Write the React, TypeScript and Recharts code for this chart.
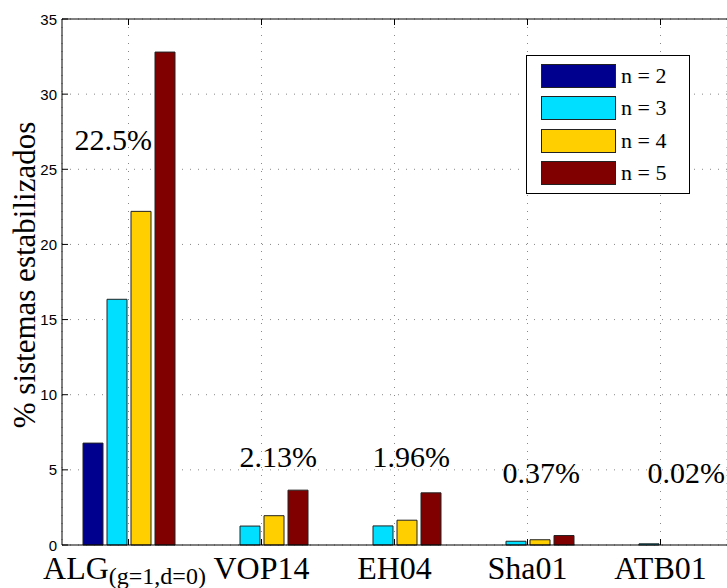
import React from 'react';
import {
  ComposedChart, Bar, Scatter, XAxis, YAxis, CartesianGrid, Legend, ReferenceLine,
} from 'recharts';

/* ---------------------------------- data ---------------------------------- */

const categories = ['ALG', 'VOP14', 'EH04', 'Sha01', 'ATB01'];
const subscripts = ['(g=1,d=0)', '', '', '', ''];

const n2 = [6.78, 0, 0, 0, 0];
const n3 = [16.35, 1.26, 1.27, 0.25, 0.08];
const n4 = [22.2, 1.95, 1.65, 0.35, 0];
const n5 = [32.8, 3.65, 3.47, 0.63, 0];

// percentage notes written over each group (y = baseline, in axis units)
const notes = ['22.5%', '2.13%', '1.96%', '0.37%', '0.02%'];
const noteY = [26.3, 5.18, 5.22, 4.15, 4.15];

const yTicks = [0, 5, 10, 15, 20, 25, 30, 35];

const seriesKeys = ['n2', 'n3', 'n4', 'n5'];
const seriesNames = ['n = 2', 'n = 3', 'n = 4', 'n = 5'];
const seriesColors = ['#00008f', '#00dfff', '#ffcf00', '#800000'];

const rows = categories.map((name, i) => ({
  name,
  n2: n2[i],
  n3: n3[i],
  n4: n4[i],
  n5: n5[i],
  note: notes[i],
  noteY: noteY[i],
}));

/* --------------------------------- layout --------------------------------- */

const SERIF = '"Liberation Serif", "Times New Roman", serif';
const SANS = '"Liberation Sans", Arial, sans-serif';
const PLOT_TOP = 19;
const noteDx = [-54, -22, -22, -25, -13];

/* ------------------------------- renderers -------------------------------- */

const YTick = ({ x, y, payload }: any) => (
  <g>
    <text x={x} y={y} textAnchor="end" dominantBaseline="central" fontFamily={SANS} fontSize={15} fill="#000">
      {payload.value}
    </text>
    <line x1={x + 5} x2={x + 11} y1={y} y2={y} stroke="#000" />
  </g>
);

const XTick = ({ x, y, payload, index }: any) => {
  const sub = subscripts[index];
  return (
    <g>
      <line x1={x} x2={x} y1={y} y2={y - 6} stroke="#000" />
      <line x1={x} x2={x} y1={PLOT_TOP} y2={PLOT_TOP + 6} stroke="#000" />
      <text x={x + (sub ? -4 : 0)} y={y + 34} textAnchor="middle" fontFamily={SERIF} fontSize={32} fill="#000">
        <tspan>{payload.value}</tspan>
        {sub ? <tspan dy={5} fontSize={24}>{sub}</tspan> : null}
      </text>
    </g>
  );
};

const NoteShape = (props: any) => {
  const { cx, cy, index } = props;
  return (
    <text x={cx + noteDx[index]} y={cy} textAnchor="start" fontFamily={SERIF} fontSize={30} fill="#000">
      {props.payload.note}
    </text>
  );
};

const LegendBox = () => (
  <div style={{
    position: 'relative', width: 164, height: 139, boxSizing: 'border-box',
    border: '1px solid #000', background: '#fff',
  }}>
    {seriesNames.map((nm, i) => (
      <div key={nm}>
        <div style={{
          position: 'absolute', left: 14, top: 8 + i * 32.3, width: 75, height: 24,
          boxSizing: 'border-box', border: '1px solid #222', background: seriesColors[i],
        }} />
        <div style={{
          position: 'absolute', left: 94, top: 8 + i * 32.3, height: 24, lineHeight: '24px',
          fontFamily: SERIF, fontSize: 22, color: '#000', whiteSpace: 'nowrap',
        }}>{nm}</div>
      </div>
    ))}
  </div>
);

/* ---------------------------------- chart --------------------------------- */

export default function App() {
  return (
    <div style={{
      position: 'fixed', left: 0, top: 0, width: 727, height: 588,
      overflow: 'hidden', background: '#fff',
    }}>
      <ComposedChart
        width={745}
        height={588}
        data={rows}
        margin={{ top: PLOT_TOP, right: 18, bottom: 0, left: 0 }}
        barGap={4}
      >
        <CartesianGrid stroke="#888" strokeDasharray="1 7" />
        <XAxis
          dataKey="name"
          height={43}
          axisLine={{ stroke: '#000' }}
          tickLine={false}
          tickSize={0}
          tickMargin={0}
          tick={<XTick />}
          interval={0}
        />
        <YAxis
          width={62}
          domain={[0, 35]}
          ticks={yTicks}
          axisLine={{ stroke: '#000' }}
          tickLine={false}
          tickSize={0}
          tickMargin={5}
          tick={<YTick />}
          label={{
            content: () => (
              <text
                transform="translate(35, 275) rotate(-90)"
                textAnchor="middle"
                fontFamily={SERIF}
                fontSize={31}
                fill="#000"
              >
                % sistemas estabilizados
              </text>
            ),
          }}
        />
        <ReferenceLine y={35} stroke="#000" />
        {seriesKeys.map((k, i) => (
          <Bar
            key={k}
            dataKey={k}
            name={seriesNames[i]}
            fill={seriesColors[i]}
            stroke="#222"
            strokeWidth={1}
            barSize={20}
            isAnimationActive={false}
          />
        ))}
        <Scatter dataKey="noteY" legendType="none" shape={<NoteShape />} isAnimationActive={false} />
        <Legend
          layout="horizontal"
          verticalAlign="middle"
          align="center"
          wrapperStyle={{ left: 526, top: 55, width: 164, height: 139 }}
          content={() => <LegendBox />}
        />
      </ComposedChart>
    </div>
  );
}
